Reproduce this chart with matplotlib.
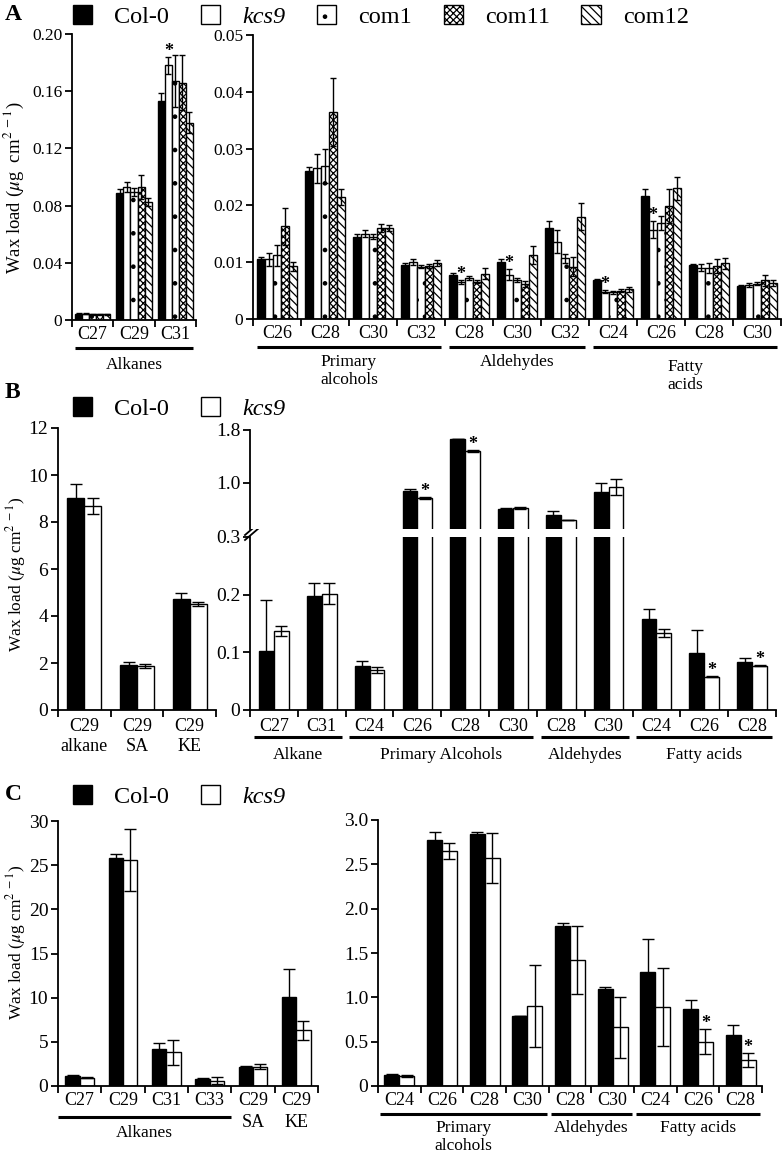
import numpy as np
import matplotlib
matplotlib.use('Agg')
import matplotlib.pyplot as plt
from matplotlib.patches import Patch

plt.rcParams['font.family'] = ['Liberation Serif', 'DejaVu Serif']
plt.rcParams['mathtext.fontset'] = 'stix'
plt.rcParams['hatch.linewidth'] = 0.9
plt.rcParams['axes.linewidth'] = 1.3

W, H = 784, 1155

# ---------- panel A: five lines ----------
a_lines = ['Col-0', 'kcs9', 'com1', 'com11', 'com12']
a_fills = ['black', 'white', 'white', 'white', 'white']
a_hatches = [None, None, '.', 'xxxxx', '\\\\\\\\']

a_alk_cats = ['C27', 'C29', 'C31']
a_alk_mean = np.array([[0.0045, 0.0888, 0.153],
                       [0.0045, 0.0930, 0.178],
                       [0.0040, 0.0895, 0.167],
                       [0.0040, 0.0930, 0.166],
                       [0.0040, 0.0825, 0.138]])
a_alk_err = np.array([[0.0005, 0.0030, 0.006],
                      [0.0005, 0.0035, 0.006],
                      [0.0005, 0.0030, 0.018],
                      [0.0005, 0.0085, 0.019],
                      [0.0005, 0.0028, 0.0075]])
a_alk_star = [2]

a_oth_cats = ['C26', 'C28', 'C30', 'C32', 'C28', 'C30', 'C32', 'C24', 'C26', 'C28', 'C30']
a_oth_mean = np.array([
    [0.0105, 0.0260, 0.0145, 0.0095, 0.0078, 0.0101, 0.0160, 0.0068, 0.0217, 0.0095, 0.0058],
    [0.0105, 0.0265, 0.0150, 0.0100, 0.0065, 0.0078, 0.0136, 0.0048, 0.0157, 0.0090, 0.0060],
    [0.0112, 0.0270, 0.0145, 0.0092, 0.0072, 0.0069, 0.0107, 0.0047, 0.0169, 0.0090, 0.0062],
    [0.0163, 0.0365, 0.0160, 0.0093, 0.0066, 0.0062, 0.0092, 0.0050, 0.0199, 0.0093, 0.0068],
    [0.0093, 0.0215, 0.0160, 0.0099, 0.0080, 0.0113, 0.0180, 0.0052, 0.0230, 0.0098, 0.0063]])
a_oth_err = np.array([
    [0.0004, 0.0007, 0.0004, 0.0004, 0.0003, 0.0004, 0.0012, 0.0003, 0.0012, 0.0002, 0.0002],
    [0.0012, 0.0025, 0.0006, 0.0005, 0.0003, 0.0010, 0.0020, 0.0003, 0.0015, 0.0006, 0.0004],
    [0.0018, 0.0030, 0.0005, 0.0003, 0.0003, 0.0004, 0.0008, 0.0003, 0.0012, 0.0009, 0.0003],
    [0.0032, 0.0060, 0.0007, 0.0003, 0.0003, 0.0005, 0.0017, 0.0003, 0.0030, 0.0012, 0.0010],
    [0.0008, 0.0014, 0.0005, 0.0005, 0.0010, 0.0016, 0.0024, 0.0005, 0.0020, 0.0010, 0.0005]])
a_oth_star = [4, 5, 7, 8]

# ---------- panel B: Col-0 vs kcs9 ----------
ab_lines = ['Col-0', 'kcs9']
ab_fills = ['black', 'white']
ab_hatches = [None, None]

b_left_cats = ['C29\nalkane', 'C29\nSA', 'C29\nKE']
b_left_mean = np.array([[9.02, 1.92, 4.72],
                        [8.68, 1.87, 4.50]])
b_left_err = np.array([[0.58, 0.12, 0.28],
                       [0.33, 0.10, 0.08]])

b_right_cats = ['C27', 'C31', 'C24', 'C26', 'C28', 'C30', 'C28', 'C30', 'C24', 'C26', 'C28']
b_right_mean = np.array([
    [0.103, 0.197, 0.077, 0.876, 1.664, 0.603, 0.512, 0.861, 0.157, 0.099, 0.083],
    [0.137, 0.202, 0.070, 0.770, 1.482, 0.618, 0.436, 0.936, 0.134, 0.058, 0.077]])
b_right_err = np.array([
    [0.088, 0.023, 0.008, 0.030, 0.005, 0.010, 0.060, 0.136, 0.019, 0.039, 0.007],
    [0.009, 0.018, 0.005, 0.010, 0.015, 0.010, 0.005, 0.120, 0.007, 0.001, 0.001]])

# ---------- panel C: Col-0 vs kcs9 ----------
c_left_cats = ['C27', 'C29', 'C31', 'C33', 'C29\nSA', 'C29\nKE']
c_left_mean = np.array([[1.10, 25.8, 4.2, 0.80, 2.2, 10.1],
                        [0.95, 25.6, 3.8, 0.60, 2.2, 6.3]])
c_left_err = np.array([[0.10, 0.5, 0.7, 0.15, 0.10, 3.2],
                       [0.10, 3.5, 1.4, 0.40, 0.25, 1.1]])

c_right_cats = ['C24', 'C26', 'C28', 'C30', 'C28', 'C30', 'C24', 'C26', 'C28']
c_right_mean = np.array([[0.12, 2.77, 2.84, 0.79, 1.80, 1.09, 1.29, 0.87, 0.58],
                         [0.11, 2.65, 2.57, 0.90, 1.42, 0.66, 0.89, 0.50, 0.29]])
c_right_err = np.array([[0.01, 0.10, 0.02, 0.00, 0.04, 0.03, 0.37, 0.10, 0.11],
                        [0.01, 0.09, 0.28, 0.46, 0.38, 0.34, 0.44, 0.14, 0.08]])
c_right_star = [7, 8]

fig = plt.figure(figsize=(W / 100, H / 100), dpi=100)


def add_ax(l, t, r, b):
    return fig.add_axes([l / W, 1 - b / H, (r - l) / W, (b - t) / H])


def draw_bars(ax, means, errs, width, fills, hatches, cap=3, stars=(), star_row=1):
    k, n = means.shape
    x = np.arange(n)
    offs = (np.arange(k) - (k - 1) / 2) * width
    for i in range(k):
        ax.bar(x + offs[i], means[i], width, color=fills[i], edgecolor='black',
               hatch=hatches[i], linewidth=1.0, zorder=2)
        ax.errorbar(x + offs[i], means[i], yerr=errs[i], fmt='none', ecolor='black',
                    elinewidth=1.0, capsize=cap, capthick=1.0, zorder=3)
    for j in stars:
        ax.annotate('*', (x[j] + offs[star_row], means[star_row, j] + errs[star_row, j]),
                    xytext=(0, -2), textcoords='offset points', ha='center', va='bottom',
                    fontsize=13, fontweight='bold', annotation_clip=False)


def style(ax, n, ylim, yticks, ylabels, cats, tick_fs, cat_fs, ls=1.2, pad=4):
    ax.set_xlim(-0.5, n - 0.5)
    ax.set_ylim(*ylim)
    ax.spines[['top', 'right']].set_visible(False)
    ax.set_yticks(yticks)
    ax.set_yticklabels(ylabels, fontsize=tick_fs)
    ax.set_xticks(np.arange(n + 1) - 0.5)
    ax.set_xticklabels([])
    ax.set_xticks(np.arange(n), minor=True)
    ax.set_xticklabels(cats, minor=True, fontsize=cat_fs, linespacing=ls)
    ax.tick_params(axis='x', which='major', direction='out', length=5, width=1.3)
    ax.tick_params(axis='x', which='minor', length=0, pad=pad)
    ax.tick_params(axis='y', direction='out', length=5, width=1.3, pad=2)


def group(ax, i0, i1, text, line_dy, text_dy, fs, pad=0.42, ls=1.2):
    h = ax.get_window_extent().height
    tr = ax.get_xaxis_transform()
    ax.plot([i0 - pad, i1 + pad], [-line_dy / h] * 2, color='black', lw=2.2,
            transform=tr, clip_on=False, solid_capstyle='butt')
    ax.text((i0 + i1) / 2, -text_dy / h, text, transform=tr, ha='center', va='top',
            fontsize=fs, linespacing=ls)


def legend(x, y, labels, fills, hatches, spacing):
    handles = [Patch(facecolor=f, edgecolor='black', hatch=h, linewidth=1.0)
               for f, h in zip(fills, hatches)]
    leg = fig.legend(handles, labels, loc='upper left', bbox_to_anchor=(x / W, 1 - y / H),
                     ncol=len(labels), frameon=False, fontsize=17.5, handlelength=0.8,
                     handleheight=0.8, handletextpad=0.9, columnspacing=spacing,
                     borderpad=0, borderaxespad=0)
    leg.get_texts()[1].set_style('italic')


ylab = r'Wax load ($\mu$g cm$^{2\ -1}$)'

# ================= A =================
axA1 = add_ax(72, 34, 196, 320)
draw_bars(axA1, a_alk_mean, a_alk_err, 0.17, a_fills, a_hatches, cap=2.5, stars=a_alk_star)
style(axA1, 3, (0, 0.2), [0, 0.04, 0.08, 0.12, 0.16, 0.20],
      ['0', '0.04', '0.08', '0.12', '0.16', '0.20'], a_alk_cats, 12.5, 13)
group(axA1, 0, 2, 'Alkanes', 28, 37, 12.5)

axA2 = add_ax(253, 35, 781, 319)
draw_bars(axA2, a_oth_mean, a_oth_err, 0.17, a_fills, a_hatches, cap=2.5, stars=a_oth_star)
style(axA2, 11, (0, 0.05), [0, 0.01, 0.02, 0.03, 0.04, 0.05],
      ['0', '0.01', '0.02', '0.03', '0.04', '0.05'], a_oth_cats, 12.5, 13)
group(axA2, 0, 3, 'Primary\nalcohols', 28, 35, 12.5)
group(axA2, 4, 6, 'Aldehydes', 28, 35, 12.5)
group(axA2, 7, 10, 'Fatty\nacids', 28, 40, 12.5)

fig.text(5 / W, 1 - 15 / H, 'A', fontsize=17, fontweight='bold', va='center')
fig.text(14 / W, 1 - 188 / H, r'Wax load ($\mu$g  cm$^{2\ -1}$)', rotation=90,
         ha='center', va='center', fontsize=13.5)
legend(73, 5, a_lines, a_fills, a_hatches, 1.3)

# ================= B =================
axB1 = add_ax(58, 428, 216, 710)
draw_bars(axB1, b_left_mean, b_left_err, 0.32, ab_fills, ab_hatches, cap=4)
style(axB1, 3, (0, 12), range(0, 13, 2), [str(v) for v in range(0, 13, 2)],
      b_left_cats, 14, 13, ls=1.2, pad=6)

axB2 = add_ax(250, 537, 776, 710)
draw_bars(axB2, b_right_mean, b_right_err, 0.31, ab_fills, ab_hatches, cap=4,
          stars=[9, 10])
style(axB2, 11, (0, 0.3), [0, 0.1, 0.2, 0.3], ['0', '0.1', '0.2', '0.3'],
      b_right_cats, 14, 13, pad=6)
group(axB2, 0, 1, 'Alkane', 27, 37, 12.5)
group(axB2, 2, 5, 'Primary Alcohols', 27, 37, 12.5)
group(axB2, 6, 7, 'Aldehydes', 27, 37, 12.5)
group(axB2, 8, 10, 'Fatty acids', 27, 37, 12.5)

axB3 = add_ax(250, 430, 776, 529)
draw_bars(axB3, b_right_mean, b_right_err, 0.31, ab_fills, ab_hatches, cap=4,
          stars=[3, 4])
axB3.set_xlim(-0.5, 10.5)
axB3.set_ylim(0.3, 1.8)
axB3.spines[['top', 'right', 'bottom']].set_visible(False)
axB3.set_xticks([])
axB3.set_yticks([1.0, 1.8])
axB3.set_yticklabels(['1.0', '1.8'], fontsize=14)
axB3.tick_params(axis='y', direction='out', length=5, width=1.3, pad=2)

# break marks on the y axis
bw = axB2.get_window_extent().width
bh = axB2.get_window_extent().height
for dy in (0, 5):
    axB2.plot([-5 / bw, 9 / bw], [(-3 + dy) / bh + 1, (9 + dy) / bh + 1],
              transform=axB2.transAxes, color='black', lw=1.3, clip_on=False)

fig.text(5 / W, 1 - 393 / H, 'B', fontsize=17, fontweight='bold', va='center')
fig.text(16 / W, 1 - 574 / H, ylab, rotation=90, ha='center', va='center', fontsize=12.5)
legend(73, 397, ab_lines, ab_fills, ab_hatches, 1.3)

# ================= C =================
axC1 = add_ax(58, 821, 318, 1086)
draw_bars(axC1, c_left_mean, c_left_err, 0.33, ab_fills, ab_hatches, cap=4)
style(axC1, 6, (0, 30), range(0, 31, 5), [str(v) for v in range(0, 31, 5)],
      c_left_cats, 14, 13, ls=1.45, pad=4)
group(axC1, 0, 3, 'Alkanes', 31, 39, 12.5, pad=0.5)

axC2 = add_ax(378, 820, 762, 1086)
draw_bars(axC2, c_right_mean, c_right_err, 0.35, ab_fills, ab_hatches, cap=4,
          stars=c_right_star)
style(axC2, 9, (0, 3.0), [0, 0.5, 1.0, 1.5, 2.0, 2.5, 3.0],
      ['0', '0.5', '1.0', '1.5', '2.0', '2.5', '3.0'], c_right_cats, 14, 13, pad=4)
group(axC2, 0, 3, 'Primary\nalcohols', 28, 34, 12.5, pad=0.45)
group(axC2, 4, 5, 'Aldehydes', 28, 34, 12.5, pad=0.45)
group(axC2, 6, 8, 'Fatty acids', 28, 34, 12.5, pad=0.45)

fig.text(5 / W, 1 - 795 / H, 'C', fontsize=17, fontweight='bold', va='center')
fig.text(16 / W, 1 - 942 / H, ylab, rotation=90, ha='center', va='center', fontsize=12.5)
legend(73, 785, ab_lines, ab_fills, ab_hatches, 1.3)

fig.savefig('out.png', dpi=100)
